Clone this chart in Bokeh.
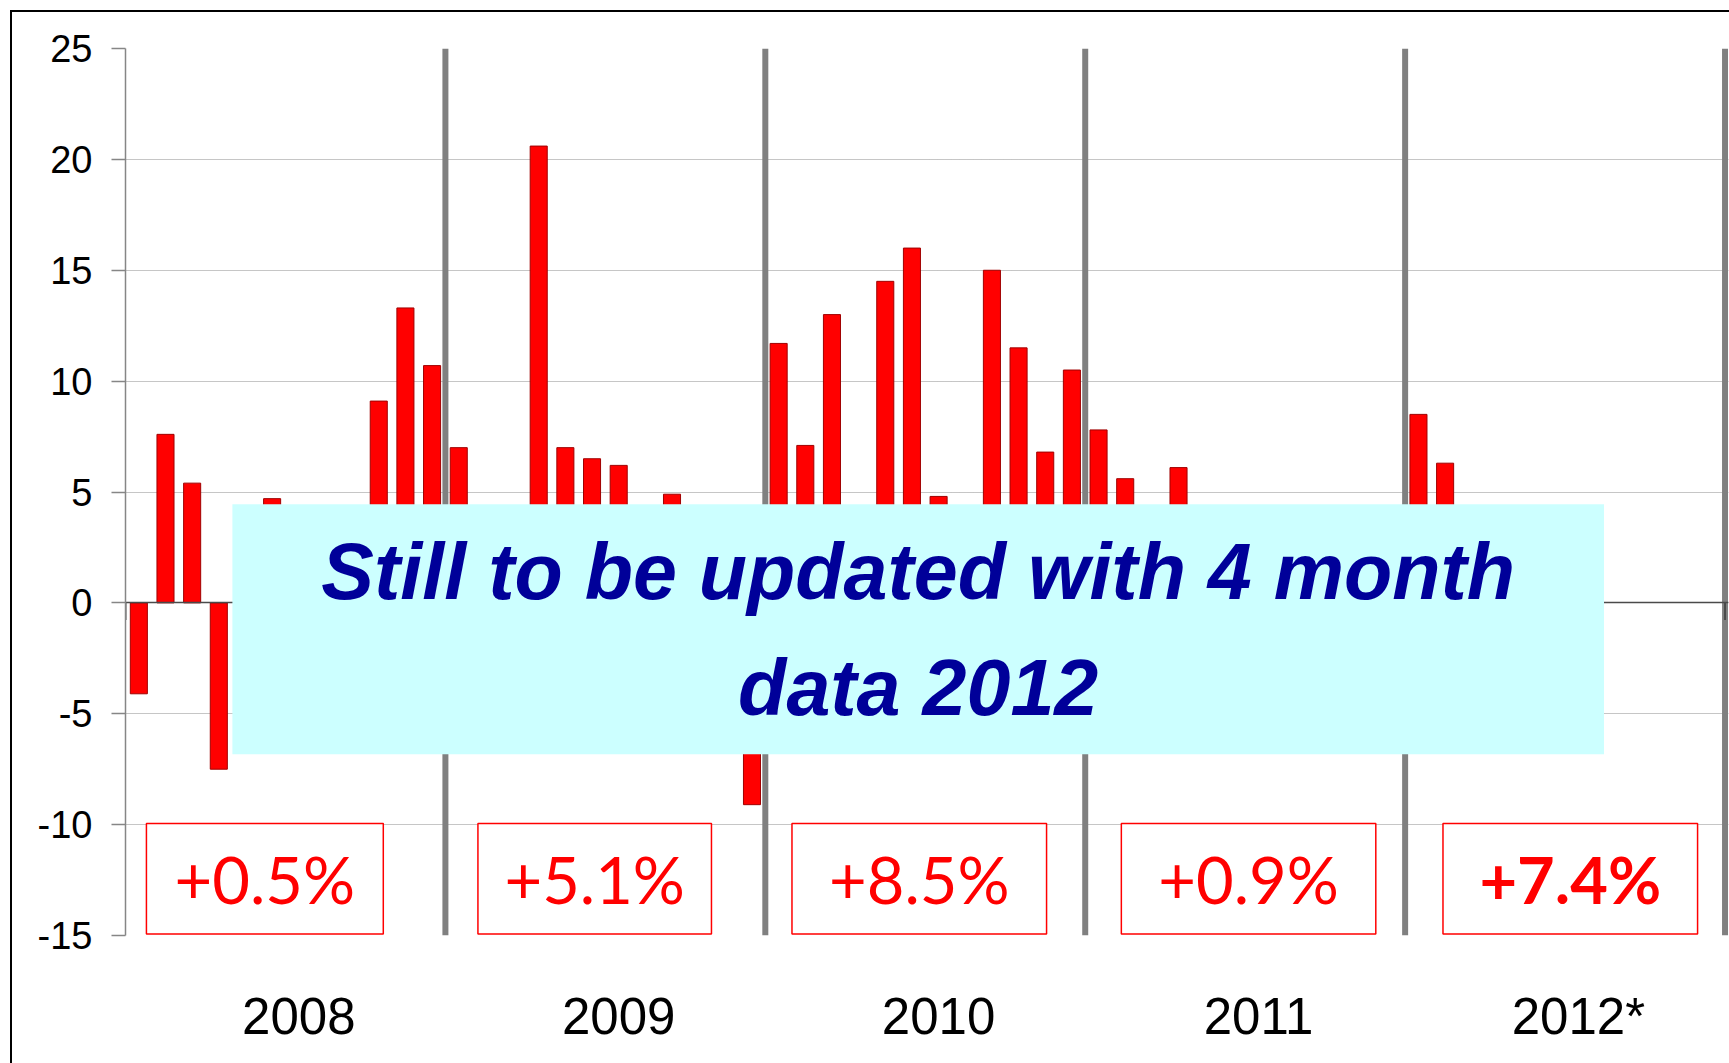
from bokeh.plotting import figure
from bokeh.models import Range1d, FixedTicker, ColumnDataSource
from bokeh.core.properties import value, field
from bokeh.embed import file_html
from bokeh.resources import INLINE

NaN = float("nan")

# ---- data (monthly % change, months hidden behind the note box are unknown) ----
years = ["2008", "2009", "2010", "2011", "2012*"]
v2008 = [-4.1, 7.6, 5.4, -7.5, NaN, 4.7, NaN, NaN, NaN, 9.1, 13.3, 10.7]
v2009 = [7.0, NaN, NaN, 20.6, 7.0, 6.5, 6.2, NaN, 4.9, NaN, NaN, -9.1]
v2010 = [11.7, 7.1, 13.0, NaN, 14.5, 16.0, 4.8, NaN, 15.0, 11.5, 6.8, 10.5]
v2011 = [7.8, 5.6, NaN, 6.1, NaN, NaN, NaN, NaN, NaN, NaN, NaN, NaN]
v2012 = [8.5, 6.3, NaN, NaN, NaN, NaN, NaN, NaN, NaN, NaN, NaN, NaN]
growth = ["+0.5%", "+5.1%", "+8.5%", "+0.9%", "+7.4%"]
growth_style = ["normal", "normal", "normal", "normal", "bold"]
y_ticks = [-15, -10, -5, 0, 5, 10, 15, 20, 25]
note = "Still to be updated with 4 month\ndata 2012"

# ---- layout / style constants ----
SANS = "Liberation Sans"
MONTHS = 12
Y_MIN, Y_MAX = y_ticks[0], y_ticks[-1]
BOX_L_OFF = [0.785, 1.22, 1.0, 1.355, 1.42]     # growth box edges, months from year start
BOX_R_OFF = [9.67, 9.98, 10.55, 10.9, 10.97]
NOTE_L, NOTE_R, NOTE_T, NOTE_B = 3.51, 54.96, 4.45, -6.83
END_TICK = 0.77

series = v2008 + v2009 + v2010 + v2011 + v2012
xs = list(range(len(series)))
n_years = len(years)

p = figure(width=1729, height=1063, output_backend="svg", toolbar_location=None,
           x_range=Range1d(-0.5, len(series) - 0.5 + 0.13),
           y_range=Range1d(Y_MIN, Y_MAX),
           min_border_left=125, min_border_right=1, min_border_top=48, min_border_bottom=128)
p.outline_line_color = None
p.background_fill_color = "white"
p.border_fill_color = None
# outer chart frame (cropped on the right and bottom in the original)
p.styles = {
    "background": "linear-gradient(#000, #000) 10px 10px / 2px 100% no-repeat, "
                  "linear-gradient(#000, #000) 10px 10px / 100% 2px no-repeat, #fff"
}

# grid
p.xgrid.visible = False
p.ygrid.ticker = FixedTicker(ticks=y_ticks)
p.ygrid.grid_line_color = "#8c8c8c"
p.ygrid.grid_line_dash = "1 1"
p.ygrid.grid_line_width = 1

# y axis
p.yaxis.ticker = FixedTicker(ticks=y_ticks)
p.yaxis.major_label_overrides = {t: str(t) for t in y_ticks}
p.yaxis.axis_line_color = "#868686"
p.yaxis.axis_line_width = 1.5
p.yaxis.major_tick_line_color = "#868686"
p.yaxis.major_tick_line_width = 1.5
p.yaxis.major_tick_out = 14
p.yaxis.major_tick_in = 0
p.yaxis.minor_tick_line_color = None
p.yaxis.major_label_text_font = SANS
p.yaxis.major_label_text_font_size = "38px"
p.yaxis.major_label_text_color = "black"
p.yaxis.major_label_standoff = 19

# x axis: year labels
year_ticks = [MONTHS * i + 6 for i in range(n_years)]
p.xaxis.ticker = FixedTicker(ticks=year_ticks)
p.xaxis.major_label_overrides = {t: y for t, y in zip(year_ticks, years)}
p.xaxis.axis_line_color = None
p.xaxis.major_tick_line_color = None
p.xaxis.minor_tick_line_color = None
p.xaxis.major_label_text_font = SANS
p.xaxis.major_label_text_font_size = "51px"
p.xaxis.major_label_text_color = "black"
p.xaxis.major_label_standoff = 46

# year separators
sep_x = [MONTHS * i - 0.5 for i in range(1, n_years + 1)]
p.segment(x0=sep_x, y0=[Y_MIN] * len(sep_x), x1=sep_x, y1=[Y_MAX] * len(sep_x),
          line_color="#808080", line_width=6)

# bars
p.vbar(x=xs, top=series, bottom=0, width=0.64, fill_color="#FF0000",
       line_color="#A00000", line_width=1)

# zero (category) axis line with end ticks
p.hspan(y=[0], line_color="#4a4a4a", line_width=1.5)
ends = [-0.5, len(series) - 0.5]
p.segment(x0=ends, y0=[0, 0], x1=ends, y1=[-END_TICK, -END_TICK],
          line_color="#4a4a4a", line_width=2)

# note box + text
p.quad(left=[NOTE_L], right=[NOTE_R], top=[NOTE_T], bottom=[NOTE_B],
       fill_color="#CCFFFF", line_color=None)
p.text(x=[(NOTE_L + NOTE_R) / 2], y=[(NOTE_T + NOTE_B) / 2], text=[note],
       text_font=value(SANS), text_font_size="79px", text_font_style="bold italic",
       text_color="#000099", text_align="center", text_baseline="middle",
       text_line_height=1.3)

# yearly growth boxes
bl = [MONTHS * i - 0.5 + o for i, o in enumerate(BOX_L_OFF)]
br = [MONTHS * i - 0.5 + o for i, o in enumerate(BOX_R_OFF)]
src = ColumnDataSource(dict(left=bl, right=br, xc=[(a + b) / 2 for a, b in zip(bl, br)],
                            top=[-9.95] * n_years, bottom=[-14.93] * n_years,
                            yc=[-12.45] * n_years, text=growth, style=growth_style))
p.quad(left="left", right="right", top="top", bottom="bottom", source=src,
       fill_color="white", line_color="#FF0000", line_width=1.5)
p.text(x="xc", y="yc", text="text", source=src, text_font=value("Lato"),
       text_font_size="65px", text_font_style=field("style"), text_color="#FF0000",
       text_align="center", text_baseline="middle")

open("out.html", "w").write(file_html(p, INLINE))
